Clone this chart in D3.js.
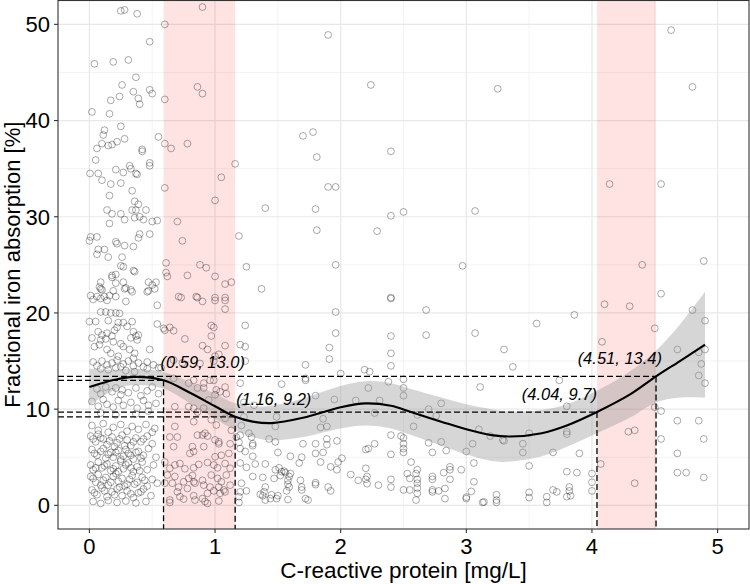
<!DOCTYPE html>
<html><head><meta charset="utf-8">
<script src="https://cdn.jsdelivr.net/npm/d3@7"></script>
<style>body{margin:0;background:#fff} svg{display:block} text{font-family:"Liberation Sans",Arial,sans-serif}</style>
</head><body><svg id="chart" width="750" height="584"></svg>
<script>
// ---------- DATA ----------
const xTicks = [0, 1, 2, 3, 4, 5];
const yTicks = [0, 10, 20, 30, 40, 50];
const xTitle = "C-reactive protein [mg/L]";
const yTitle = "Fractional iron absorption [%]";

// highlighted CRP intervals
const bandStart = [0.59, 4.04];
const bandEnd = [1.16, 4.51];

// annotated points on the fitted curve
const markX = [0.59, 1.16, 4.04, 4.51];
const markY = [13.0, 9.2, 9.7, 13.4];
const markLabel = ["(0.59, 13.0)", "(1.16, 9.2)", "(4.04, 9.7)", "(4.51, 13.4)"];

// fitted smooth curve and its confidence band
const fitX  = [0, 0.2, 0.35, 0.59, 0.8, 1.0, 1.16, 1.3, 1.45, 1.7, 2.0, 2.2, 2.4, 2.56, 2.8, 3.0, 3.2, 3.35, 3.6, 3.8, 4.04, 4.3, 4.51, 4.7, 4.9];
const fitY  = [12.3, 13.05, 13.35, 13.0, 11.7, 10.3, 9.2, 8.7, 8.55, 9.1, 10.2, 10.6, 10.35, 9.7, 8.7, 7.9, 7.3, 7.15, 7.5, 8.3, 9.7, 11.5, 13.4, 15.0, 16.7];
const fitSE = [1.9, 1.05, 0.85, 0.85, 1.1, 1.3, 1.4, 1.6, 1.8, 2.0, 2.2, 2.3, 2.35, 2.4, 2.5, 2.6, 2.7, 2.6, 2.4, 2.2, 2.2, 2.4, 2.7, 3.8, 5.5];

// observations [CRP, fractional absorption]
const obsTop = [
 [0.25,51.4],[0.28,51.5],[0.38,51.1],[0.90,51.8],[0.60,50.0],[0.48,48.2],[0.04,45.9],[0.19,46.1],[0.31,46.3],
 [0.37,44.5],[0.26,43.7],[0.35,43.0],[0.48,43.2],[0.50,42.8],[0.24,42.5],[0.39,42.3],[0.17,42.1],[0.40,41.7],
 [0.60,42.2],[0.86,43.5],[0.90,42.8],[0.02,40.9],[0.16,40.7],[0.25,39.4],[0.12,39.0],[0.11,38.5],[0.55,38.3],
 [0.28,38.1],[0.22,37.8],[0.18,37.5],[0.15,37.4],[0.10,37.6],[0.06,37.1],[0.42,37.0],[0.42,36.8],[0.60,37.6],
 [0.65,37.1],[0.78,37.6],[0.05,35.9],[0.48,35.6],[0.48,35.3],[0.32,35.3],[0.33,35.0],[0.21,34.9],[0.27,34.6],
 [0.37,34.5],[0.38,34.4],[0.005,34.5],[0.07,34.5],[1.16,35.5],[1.05,34.1],[0.10,33.8],[0.17,33.4],[0.25,33.5],
 [0.60,33.0],[0.34,32.7],[0.16,32.2],[1.00,31.7],[0.36,31.6],[0.39,31.3],[0.14,30.7],[0.34,30.7],[0.37,30.7],
 [0.45,30.7],[0.18,30.3],[0.25,30.3],[0.40,30.0],[0.36,29.9],[0.28,29.7],[0.43,29.7],[0.50,29.5],[0.54,29.6],
 [0.70,29.5],[0.16,29.3],[0.48,28.2],[0.40,28.2],[0.39,27.8],[0.01,27.9],[0.06,27.9],[0.0,27.5],[0.74,27.5],
 [1.19,28.0],[0.21,27.4],[0.22,27.2],[0.28,27.0],[0.35,26.9],[0.07,26.6],[0.12,26.6],[0.06,26.1],[0.15,25.8],
 [0.26,25.8],[0.25,24.9],[0.27,24.8],[0.61,25.2],[0.88,25.0],[0.93,24.7],[1.25,24.8],[0.36,24.3],[0.21,24.0],
 [0.18,23.9],[0.18,23.7],[0.61,24.2],[0.62,23.8],[0.78,23.9],[1.00,23.8],[0.09,23.2],[0.27,23.2],[0.47,23.2],
 [0.53,23.2],[0.50,22.9],[0.52,22.5],[1.13,23.2],[1.08,23.0],[0.21,23.1],[0.09,22.5],[0.10,22.4],[0.28,22.5],
 [0.33,22.4],[0.34,22.2],[0.47,22.3],[0.71,21.7],[0.85,21.7],[1.00,21.6],[1.08,21.6],[0.35,24.4],[0.08,22.7],
 [0.19,22.3],[0.29,22.6],[0.46,22.2],
 [1.90,48.9],[2.24,43.7],[3.25,43.3],[1.70,38.4],[1.78,38.8],[1.81,36.2],[2.40,36.8],[1.90,33.1],[1.96,33.1],
 [1.40,30.9],[1.80,30.8],[2.40,30.1],[2.50,30.5],[3.07,30.6],[1.81,28.6],[2.29,28.5],[1.96,25.0],[2.97,24.9],
 [1.37,22.5],[2.40,21.6],[2.40,21.5],
 [4.63,49.4],[4.80,43.5],[4.14,33.4],[4.55,33.4],[4.40,25.0],[4.89,25.4],[4.55,22.0]
];

const obsLowDense = [
 [0.01,21.8],[0.06,21.7],[0.12,21.7],[0.16,21.8],[0.21,21.7],[0.03,21.4],[0.09,21.5],[0.14,21.3],[0.54,20.8],[0.29,21.2],
 [0.09,20.1],[0.13,20.1],[0.17,20.0],[0.21,20.0],[0.24,19.95],[0.0,19.1],[0.05,19.1],[0.15,19.2],[0.23,19.0],[0.27,19.0],
 [0.34,19.1],[0.30,18.6],[0.22,18.5],[0.54,18.85],[0.59,18.4],[0.07,18.05],[0.10,17.7],[0.14,17.9],[0.18,17.6],[0.20,18.2],
 [0.35,18.05],[0.37,17.6],[0.39,17.7],[0.33,17.4],[0.38,17.2],[0.02,17.4],[0.09,17.2],[0.13,17.3],[0.19,17.0],[0.25,16.8],
 [0.27,16.5],[0.48,16.2],[0.04,16.5],[0.08,16.7],[0.14,16.2],[0.17,15.8],[0.23,15.5],[0.32,16.2],[0.36,15.8],[0.35,15.3],
 [0.03,14.9],[0.06,14.5],[0.10,15.0],[0.14,14.6],[0.18,14.8],[0.22,15.1],[0.25,14.4],[0.27,14.7],[0.31,15.0],[0.35,14.5],
 [0.39,14.8],[0.43,14.4],[0.46,14.9],[0.51,14.6],[0.55,14.3],[0.09,14.2],[0.15,14.1],[0.21,14.3],[0.29,14.0],[0.36,13.9],
 [0.46,14.2],[0.57,14.3],
 [0.06,12.1],[0.09,11.6],[0.13,12.3],[0.18,11.8],[0.21,12.2],[0.25,11.5],[0.26,12.0],[0.31,11.7],[0.37,12.2],[0.41,11.4],
 [0.46,11.9],[0.50,12.3],[0.55,11.6],
 [0.02,10.8],[0.07,10.3],[0.11,11.0],[0.14,10.5],[0.19,10.2],[0.23,10.9],[0.27,10.4],[0.33,10.7],[0.38,10.1],[0.43,10.9],
 [0.47,10.4],[0.53,10.6],
 [0.09,9.6],[0.21,9.4],[0.37,9.5],[0.47,9.8],
 [0.02,8.3],[0.07,7.8],[0.11,8.5],[0.15,7.6],[0.19,8.1],[0.25,8.4],[0.30,7.7],[0.34,8.2],[0.39,7.9],[0.45,8.4],[0.50,7.6],[0.52,8.0],
 [0.01,7.2],[0.05,6.6],[0.07,7.4],[0.11,6.9],[0.14,6.3],[0.18,7.1],[0.22,6.5],[0.26,7.3],[0.30,6.8],[0.33,6.2],[0.37,7.0],
 [0.41,6.6],[0.46,7.2],[0.50,6.4],[0.03,6.9],[0.09,7.0],[0.16,6.7],[0.20,6.1],[0.24,6.9],[0.28,6.2],[0.35,6.6],[0.43,6.9],
 [0.02,5.8],[0.06,5.2],[0.09,5.6],[0.13,4.9],[0.17,5.5],[0.19,5.0],[0.23,5.7],[0.27,5.1],[0.31,5.4],[0.35,4.8],[0.39,5.6],
 [0.43,5.2],[0.47,5.9],[0.53,5.0],[0.04,5.4],[0.11,5.9],[0.15,5.3],[0.21,5.5],[0.25,4.8],[0.29,5.8],[0.33,5.2],[0.37,5.5],[0.41,4.9],
 [0.01,4.2],[0.03,3.7],[0.07,4.5],[0.10,3.9],[0.14,4.3],[0.17,3.6],[0.21,4.1],[0.25,4.6],[0.27,3.8],[0.31,4.4],[0.35,3.5],
 [0.38,4.0],[0.42,4.5],[0.46,3.7],[0.51,4.2],[0.05,3.9],[0.12,4.1],[0.19,3.8],[0.23,3.5],[0.29,4.2],[0.33,3.9],[0.40,3.6],
 [0.01,3.0],[0.05,2.4],[0.07,3.2],[0.11,2.6],[0.15,2.1],[0.19,3.0],[0.23,2.5],[0.26,2.8],[0.30,2.2],[0.34,3.1],[0.38,2.4],
 [0.42,2.9],[0.46,2.0],[0.50,2.7],[0.54,2.3],[0.03,2.8],[0.09,2.1],[0.13,2.9],[0.17,2.4],[0.21,3.3],[0.28,2.0],[0.32,2.7],
 [0.36,2.2],[0.44,2.6],
 [0.02,1.6],[0.06,1.1],[0.10,1.8],[0.14,0.9],[0.18,1.4],[0.22,1.7],[0.26,1.0],[0.30,1.5],[0.35,0.8],[0.39,1.3],[0.43,1.7],
 [0.49,1.0],[0.04,1.3],[0.12,1.5],[0.20,1.1],[0.24,1.9],[0.33,1.2],[0.41,1.4],
 [0.03,0.4],[0.09,0.2],[0.15,0.5],[0.22,0.3],[0.29,0.45],[0.37,0.25],[0.45,0.4]
];

const obsBand1 = [
 [0.73,21.6],[0.86,21.6],[0.90,21.2],[1.00,21.3],[1.08,21.3],[1.08,20.4],
 [0.60,18.2],[0.64,18.5],[0.67,18.15],[0.97,18.7],[0.99,18.5],[0.97,17.6],[0.76,17.3],[0.90,16.6],[0.94,16.2],[1.08,16.6],
 [1.00,15.5],[1.03,15.7],[0.99,15.0],[0.67,15.1],[0.74,14.8],[0.88,14.75],
 [0.67,13.2],[0.79,12.7],[0.83,13.0],[0.91,12.7],[0.96,13.0],[0.99,13.0],[0.86,12.2],[0.91,12.2],[1.01,12.0],[1.04,11.8],
 [1.08,12.3],[1.00,11.5],[0.95,10.95],[1.09,11.6],
 [0.68,10.25],[0.79,10.25],[0.83,10.1],[0.86,9.7],[0.91,10.1],
 [0.68,8.2],[0.83,8.7],[0.97,8.9],[1.01,8.35],[1.08,9.05],[1.13,7.8],
 [0.64,7.1],[0.70,7.1],[0.86,7.3],[0.90,7.3],[0.92,7.5],[0.94,7.2],[1.00,6.8],[1.03,6.6],[1.17,7.1],
 [0.67,6.1],[0.82,6.1],[0.91,6.1],[1.03,6.4],[1.12,6.4],[0.83,5.6],[0.80,5.4],[1.00,5.05],[1.05,5.2],[1.11,5.4],
 [0.60,4.5],[0.68,4.2],[0.72,4.35],[0.64,3.85],[0.76,3.8],[0.83,3.9],[0.87,4.25],[0.94,4.45],[0.99,4.2],[1.02,3.9],
 [1.08,4.35],[1.12,3.85],[0.62,3.15],[0.68,3.0],[0.75,2.45],[0.79,2.8],[0.82,3.1],[0.83,2.45],[0.90,2.6],[0.97,3.15],
 [1.02,2.8],[1.05,2.45],[1.09,3.15],[0.60,2.3],[0.66,2.3],[0.71,1.9],[0.78,1.75],[0.84,2.3],[0.91,2.1],[0.96,1.9],
 [1.03,1.9],[1.07,1.6],[1.12,2.1],[0.70,1.4],[0.72,0.9],[0.83,1.0],[0.90,0.7],[0.94,1.25],[0.99,1.5],[1.04,1.25],
 [1.08,1.4],[0.64,0.55],[0.75,0.65],[0.84,0.55],[0.92,0.4],[1.03,0.45],[0.64,0.3],[0.94,0.2]
];

const obsMid = [
 [2.68,20.3],[1.96,20.1],[3.07,17.9],[1.24,18.7],[1.96,17.9],[2.40,17.6],[2.68,17.7],[1.20,16.7],[1.24,16.5],[1.91,16.4],
 [2.40,15.8],[1.91,15.2],[1.24,15.0],[1.72,14.6],[2.40,14.5],[2.19,14.1],[2.23,13.9],[1.72,13.2],[1.72,13.0],[2.0,13.7],
 [2.50,13.1],[2.38,12.85],[1.53,12.6],[1.20,12.7],[2.50,12.2],[2.22,12.2],[2.50,11.4],[1.80,11.4],[1.95,11.0],[2.12,10.9],
 [2.31,10.9],[1.23,10.7],[1.31,10.4],[2.80,10.6],[2.70,10.0],[2.27,9.6],[2.61,9.4],[2.76,9.3],[1.49,9.2],[1.23,9.2],
 [1.86,9.0],[1.21,8.3],[1.48,8.2],[1.84,8.1],[1.89,8.2],[2.58,8.2],[3.10,7.9],[1.20,7.3],[1.27,7.5],[1.29,7.1],
 [2.40,7.3],[2.48,7.2],[2.50,7.0],[1.43,6.9],[1.48,6.6],[1.70,6.4],[1.80,6.4],[1.89,6.9],[1.89,6.3],[1.97,6.7],
 [1.30,6.4],[1.30,6.2],[1.19,6.55],[2.27,6.4],[2.20,5.8],[2.22,5.9],[2.50,6.4],[2.50,5.9],[2.50,5.5],[2.70,6.5],
 [2.80,6.6],[3.05,6.4],[1.50,5.5],[1.24,5.6],[1.20,5.9],[1.80,5.4],[1.86,5.5],[2.40,5.3],[2.73,5.5],[2.84,5.7],
 [3.00,5.6],[1.30,5.1],[1.60,5.1],[1.69,5.0],[1.84,4.5],[2.01,4.9],[1.98,4.5],[2.56,4.5],[3.06,4.4],[1.20,4.4],
 [1.25,3.95],[1.32,4.3],[1.40,4.3],[1.51,3.9],[1.48,3.7],[1.53,3.5],[1.55,3.55],[1.67,4.4],[1.60,3.3],[1.59,3.0],
 [2.20,3.85],[2.61,3.7],[2.60,3.3],[2.87,4.0],[2.87,3.7],[2.87,2.7],[2.82,3.4],[2.96,3.7],[1.92,4.0],[1.97,3.7],
 [2.08,3.2],[2.14,2.6],[2.20,2.7],[2.21,3.0],[2.21,2.25],[2.30,2.1],[2.40,2.7],[2.40,1.9],[2.53,3.3],[2.55,2.8],
 [2.61,2.7],[2.61,2.3],[2.61,1.8],[2.61,1.25],[2.60,0.55],[2.50,1.6],[2.55,1.6],[2.73,3.0],[2.73,2.7],[2.73,1.6],
 [2.73,1.4],[2.78,1.5],[2.83,1.75],[2.83,0.7],[3.0,0.85],[3.0,0.7],[3.06,2.45],[3.04,1.45],
 [1.68,2.6],[1.69,1.9],[1.69,1.6],[1.72,0.7],[1.74,0.55],[1.80,2.35],[1.80,2.15],[1.90,1.9],[1.92,1.5],
 [1.58,2.6],[1.58,2.2],[1.59,1.9],[1.57,1.5],[1.58,0.6],[1.50,1.0],[1.49,0.7],[1.44,0.7],[1.45,1.1],
 [1.40,1.9],[1.39,1.4],[1.40,0.55],[1.38,1.0],[1.36,1.15],[1.25,1.5],[1.20,1.4],[1.19,0.9],[1.19,0.3],[1.21,2.3],
 [1.30,3.0],[1.38,2.9],[1.47,2.8],[1.52,3.1],[1.56,3.4]
];

const obsRight = [
 [4.10,20.9],[4.30,20.7],[3.86,19.8],[3.56,18.9],[4.80,20.3],[4.90,19.2],[4.50,18.4],[4.08,17.0],[3.30,16.2],[4.68,16.2],
 [4.90,16.2],[4.85,15.9],[3.37,14.4],[4.87,14.7],[4.85,13.5],[3.74,13.0],[4.90,12.7],[3.11,12.3],[3.80,10.3],[4.50,10.2],
 [4.55,9.8],[4.68,8.8],[4.85,8.8],[4.29,7.65],[4.34,7.8],[3.80,7.65],[3.80,7.4],[3.50,7.5],[3.29,6.8],[3.30,6.7],
 [3.19,7.2],[4.55,6.9],[4.89,6.9],[3.45,6.4],[3.45,5.5],[3.69,5.5],[3.90,5.4],[4.68,5.4],[3.50,4.1],[4.07,4.3],
 [3.80,3.5],[3.88,3.4],[4.00,3.3],[4.00,2.4],[4.00,1.5],[4.34,2.3],[4.68,3.4],[4.75,3.4],[4.89,2.9],
 [3.24,1.1],[3.24,0.55],[3.24,0.3],[3.13,0.3],[3.14,0.35],[3.50,1.35],[3.50,0.8],[3.64,0.9],[3.64,0.3],[3.69,1.6],
 [3.72,1.4],[3.80,0.9],[3.82,1.9],[3.82,1.5],[3.83,1.0]
];

// ---------- CHART ----------
const svg = d3.select("#chart");
const x = d3.scaleLinear().domain([-0.25, 5.25]).range([58, 749]);
const y = d3.scaleLinear().domain([-2.46, 52.48]).range([529, 0.5]);
const [x0, x1] = x.range(), [y0, y1] = y.range();

const grid = svg.append("g");
const xMinor = d3.range(0.5, 5, 1), yMinor = d3.range(5, 50, 10);
grid.selectAll(".xm").data(xMinor).join("line").attr("x1", d => x(d)).attr("x2", d => x(d)).attr("y1", y0).attr("y2", y1)
  .attr("stroke", "#ebebeb").attr("stroke-width", 0.6);
grid.selectAll(".ym").data(yMinor).join("line").attr("y1", d => y(d)).attr("y2", d => y(d)).attr("x1", x0).attr("x2", x1)
  .attr("stroke", "#ebebeb").attr("stroke-width", 0.6);
grid.selectAll(".xM").data(xTicks).join("line").attr("x1", d => x(d)).attr("x2", d => x(d)).attr("y1", y0).attr("y2", y1)
  .attr("stroke", "#e8e8e8").attr("stroke-width", 1.2);
grid.selectAll(".yM").data(yTicks).join("line").attr("y1", d => y(d)).attr("y2", d => y(d)).attr("x1", x0).attr("x2", x1)
  .attr("stroke", "#e8e8e8").attr("stroke-width", 1.2);

// pink intervals
svg.append("g").selectAll("rect").data(bandStart.map((s, i) => [s, bandEnd[i]])).join("rect")
  .attr("x", d => x(d[0])).attr("width", d => x(d[1]) - x(d[0])).attr("y", y1).attr("height", y0 - y1)
  .attr("fill", "rgb(255,0,0)").attr("fill-opacity", 0.11);

// points
const allObs = obsTop.concat(obsLowDense, obsBand1, obsMid, obsRight);
svg.append("g").selectAll("circle").data(allObs).join("circle")
  .attr("cx", d => x(d[0])).attr("cy", d => y(d[1])).attr("r", 3.4)
  .attr("fill", "none").attr("stroke", "#000").attr("stroke-opacity", 0.48).attr("stroke-width", 0.7);

// confidence band
const fit = fitX.map((v, i) => ({x: v, y: fitY[i], lo: fitY[i] - fitSE[i], hi: fitY[i] + fitSE[i]}));
svg.append("path").datum(fit)
  .attr("d", d3.area().x(d => x(d.x)).y0(d => y(d.lo)).y1(d => y(d.hi)).curve(d3.curveCatmullRom.alpha(0.5)))
  .attr("fill", "#999").attr("fill-opacity", 0.4);
svg.append("path").datum(fit)
  .attr("d", d3.line().x(d => x(d.x)).y(d => y(d.y)).curve(d3.curveCatmullRom.alpha(0.5)))
  .attr("fill", "none").attr("stroke", "#000").attr("stroke-width", 2.1);

// dashed reference lines
const marks = markX.map((v, i) => ({x: v, y: markY[i], label: markLabel[i]}));
const ref = svg.append("g").attr("stroke", "#000").attr("stroke-width", 1.3).attr("stroke-dasharray", "6,3");
ref.selectAll(".h").data(marks).join("line").attr("x1", x0).attr("x2", d => x(d.x)).attr("y1", d => y(d.y)).attr("y2", d => y(d.y));
ref.selectAll(".v").data(marks).join("line").attr("x1", d => x(d.x)).attr("x2", d => x(d.x)).attr("y1", d => y(d.y)).attr("y2", y0);

// labels
const labelStyle = [{anchor: "start", dx: -3}, {anchor: "start", dx: 1}, {anchor: "end", dx: 0}, {anchor: "end", dx: 6}];
svg.append("g").selectAll("text").data(marks).join("text")
  .attr("x", (d, i) => x(d.x) + labelStyle[i].dx).attr("y", d => y(d.y) - 12)
  .attr("text-anchor", (d, i) => labelStyle[i].anchor)
  .attr("font-size", 16.5).attr("font-style", "italic").attr("fill", "#000").text(d => d.label);

// panel border
svg.append("rect").attr("x", x0).attr("y", y1).attr("width", x1 - x0).attr("height", y0 - y1)
  .attr("fill", "none").attr("stroke", "#333").attr("stroke-width", 1.1);

// axes
const xa = svg.append("g");
xa.selectAll("line").data(xTicks).join("line").attr("x1", d => x(d)).attr("x2", d => x(d)).attr("y1", y0).attr("y2", y0 + 4)
  .attr("stroke", "#333").attr("stroke-width", 1.1);
xa.selectAll("text").data(xTicks).join("text").attr("x", d => x(d)).attr("y", y0 + 25)
  .attr("text-anchor", "middle").attr("font-size", 22).attr("fill", "#000").text(d => d);
const ya = svg.append("g");
ya.selectAll("line").data(yTicks).join("line").attr("y1", d => y(d)).attr("y2", d => y(d)).attr("x1", x0 - 4).attr("x2", x0)
  .attr("stroke", "#333").attr("stroke-width", 1.1);
ya.selectAll("text").data(yTicks).join("text").attr("x", x0 - 8).attr("y", d => y(d)).attr("dy", "0.36em")
  .attr("text-anchor", "end").attr("font-size", 22).attr("fill", "#000").text(d => d);

svg.append("text").attr("x", (x0 + x1) / 2).attr("y", 578).attr("text-anchor", "middle")
  .attr("font-size", 22.5).attr("fill", "#000").text(xTitle);
svg.append("text").attr("transform", `translate(20,${(y0 + y1) / 2}) rotate(-90)`).attr("text-anchor", "middle")
  .attr("font-size", 22).attr("fill", "#000").text(yTitle);
</script></body></html>
